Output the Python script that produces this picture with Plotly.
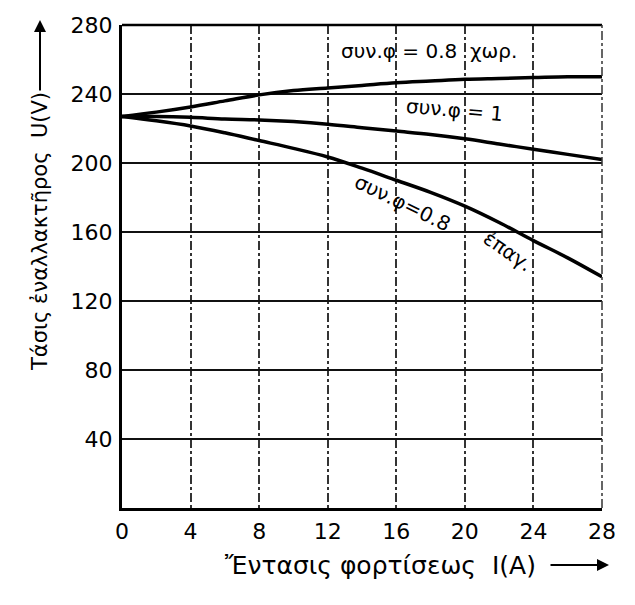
import plotly.graph_objects as go

# Load current I (A)
current = [0, 2, 4, 6, 8, 10, 12, 14, 16, 18, 20, 22, 24, 26, 28]
# Voltage U (V) for the three power factors
v_cap = [227, 229.5, 232.5, 236, 239.5, 242, 243.5, 245, 246.5, 247.5, 248.5, 249, 249.5, 250, 250]
v_unity = [227, 227, 226.5, 225.5, 225, 224, 222.5, 220.5, 218.5, 216.5, 214, 211, 208, 205, 202]
v_ind = [227, 224.5, 221.5, 217.5, 213, 208.5, 203.5, 197, 190, 183, 175, 165.5, 155, 145, 134]

x_ticks = [0, 4, 8, 12, 16, 20, 24, 28]
y_ticks = [40, 80, 120, 160, 200, 240, 280]

FONT = "DejaVu Sans"
fig = go.Figure()
for ys in (v_cap, v_unity, v_ind):
    fig.add_trace(go.Scatter(x=current, y=ys, mode="lines", line=dict(color="black", width=3.5, shape="spline"),
                             showlegend=False, hoverinfo="skip"))

fig.update_layout(
    width=635, height=605,
    margin=dict(l=122, r=33, t=25, b=97),
    paper_bgcolor="white", plot_bgcolor="white",
    font=dict(family=FONT, color="black"),
    xaxis=dict(range=[0, 28], tickvals=x_ticks, ticktext=[str(v) for v in x_ticks],
               showgrid=True, gridcolor="#333", gridwidth=1.5, griddash="dashdot",
               showline=True, linecolor="black", linewidth=3, zeroline=False,
               ticks="", tickfont=dict(size=22, family=FONT), ticklabelstandoff=2),
    yaxis=dict(range=[0, 280], tickvals=y_ticks, ticktext=[str(v) for v in y_ticks],
               showgrid=True, gridcolor="#111", gridwidth=2,
               showline=True, linecolor="black", linewidth=3, zeroline=False,
               ticks="", tickfont=dict(size=22, family=FONT), ticklabelstandoff=2),
)

# top border and right dashed border
fig.add_shape(type="line", xref="x domain", yref="y domain", x0=0, x1=1, y0=1, y1=1,
              line=dict(color="black", width=2.5))
fig.add_shape(type="line", xref="x domain", yref="y domain", x0=1, x1=1, y0=0, y1=1,
              line=dict(color="#333", width=1.5, dash="dashdot"))

# curve labels
fig.add_annotation(x=17.9, y=265, text="συν.φ = 0.8  χωρ.", showarrow=False,
                   font=dict(size=20, family=FONT))
fig.add_annotation(x=19.4, y=231, text="συν.φ = 1", showarrow=False, textangle=5,
                   font=dict(size=20, family=FONT))
fig.add_annotation(x=16.4, y=177, text="συν.φ=0.8", showarrow=False, textangle=26,
                   font=dict(size=20, family=FONT))
fig.add_annotation(x=22.5, y=149, text="ἐπαγ.", showarrow=False, textangle=35,
                   font=dict(size=20, family=FONT))

PW, PH = 480, 483
def px(xp):
    return (xp - 122) / PW
def py(yp):
    return (508 - yp) / PH

# axis titles
fig.add_annotation(xref="paper", yref="paper", x=px(380), y=py(565),
                   xanchor="center", yanchor="middle",
                   text="Ἔντασις φορτίσεως  I(A)", showarrow=False,
                   font=dict(size=25, family=FONT))
fig.add_annotation(xref="paper", yref="paper", x=px(40), y=py(232),
                   xanchor="center", yanchor="middle",
                   text="Τάσις ἐναλλακτῆρος  U(V)", showarrow=False, textangle=-90,
                   font=dict(size=21, family=FONT))
# title arrows
fig.add_annotation(xref="paper", yref="paper", axref="pixel", ayref="pixel",
                   x=px(609), y=py(565), ax=-60, ay=0, text="",
                   showarrow=True, arrowhead=2, arrowsize=1.2, arrowwidth=2, arrowcolor="black")
fig.add_annotation(xref="paper", yref="paper", axref="pixel", ayref="pixel",
                   x=px(40), y=py(20), ax=0, ay=72, text="",
                   showarrow=True, arrowhead=2, arrowsize=1.2, arrowwidth=2, arrowcolor="black")

fig.write_html("out.html")
